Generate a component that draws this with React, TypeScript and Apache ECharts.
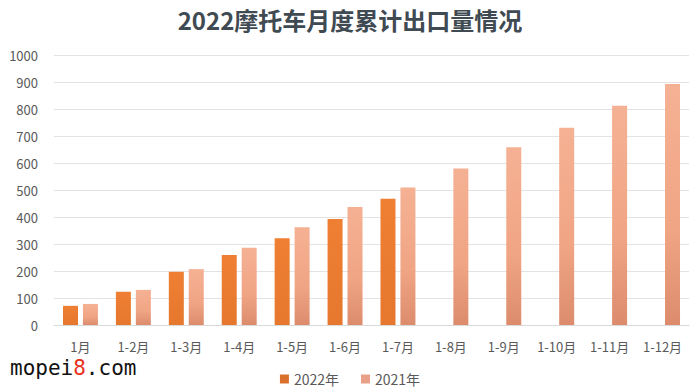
import React, { useEffect, useRef } from "react";
import * as echarts from "echarts";

const categories = ["1月", "1-2月", "1-3月", "1-4月", "1-5月", "1-6月", "1-7月", "1-8月", "1-9月", "1-10月", "1-11月", "1-12月"];
const values2022: (number | null)[] = [71, 123, 197, 259, 321, 393, 468, null, null, null, null, null];
const values2021: number[] = [78, 130, 207, 286, 362, 437, 509, 580, 658, 731, 812, 893];
const yTicks = { min: 0, max: 1000, interval: 100 };

const FONT = "'Noto Sans CJK SC', 'Noto Sans', sans-serif";

export default function App() {
  const ref = useRef<HTMLDivElement>(null);
  useEffect(() => {
    if (!ref.current) return;
    const chart = echarts.init(ref.current, null, { renderer: "svg" });
    chart.setOption({
      animation: false,
      backgroundColor: "#ffffff",
      title: {
        text: "2022摩托车月度累计出口量情况",
        left: "center",
        top: 2,
        textStyle: { fontFamily: FONT, fontSize: 24, fontWeight: "bold", color: "#404a52" },
      },
      grid: { left: 54, right: 11, top: 55, bottom: 67 },
      legend: {
        top: 372,
        left: "center",
        itemWidth: 9,
        itemHeight: 9,
        itemGap: 22,
        padding: 0,
        icon: "rect",
        textStyle: { fontFamily: FONT, fontSize: 14, color: "#595959" },
        data: [
          { name: "2022年", itemStyle: { color: "#D9712C" } },
          { name: "2021年", itemStyle: { color: "#E8A089" } },
        ],
      },
      xAxis: {
        type: "category",
        data: categories,
        axisLine: { show: true, lineStyle: { color: "#d9d9d9" } },
        axisTick: { show: false },
        axisLabel: { fontFamily: FONT, fontSize: 13, color: "#595959", margin: 15, interval: 0 },
      },
      yAxis: {
        type: "value",
        min: yTicks.min,
        max: yTicks.max,
        interval: yTicks.interval,
        axisLine: { show: false },
        axisTick: { show: false },
        splitLine: { lineStyle: { color: "#e3e3e3" } },
        axisLabel: { fontFamily: FONT, fontSize: 13, color: "#595959", margin: 16, formatter: (v: number) => String(v) },
      },
      series: [
        {
          name: "2022年",
          type: "bar",
          data: values2022,
          barWidth: 15,
          barGap: "33%",
          itemStyle: {
            color: new echarts.graphic.LinearGradient(0, 0, 0, 1, [
              { offset: 0, color: "#EE7F33" },
              { offset: 1, color: "#E6782E" },
            ]),
          },
        },
        {
          name: "2021年",
          type: "bar",
          data: values2021,
          barWidth: 15,
          itemStyle: {
            color: new echarts.graphic.LinearGradient(0, 0, 0, 1, [
              { offset: 0, color: "#F5B194" },
              { offset: 0.6, color: "#F0A584" },
              { offset: 1, color: "#DC8C6D" },
            ]),
          },
        },
      ],
      graphic: [
        {
          type: "text",
          left: 10,
          top: 357,
          style: {
            text: "{a|mopei}{b|8}{a|.com}",
            rich: {
              a: { fontFamily: "'DejaVu Sans Mono', monospace", fontSize: 21, fill: "#111111" },
              b: { fontFamily: "'DejaVu Sans Mono', monospace", fontSize: 21, fill: "#e8321e" },
            },
          },
        },
      ],
    });
    return () => chart.dispose();
  }, []);
  return <div ref={ref} style={{ position: "fixed", top: 0, left: 0, width: 700, height: 392 }} />;
}
